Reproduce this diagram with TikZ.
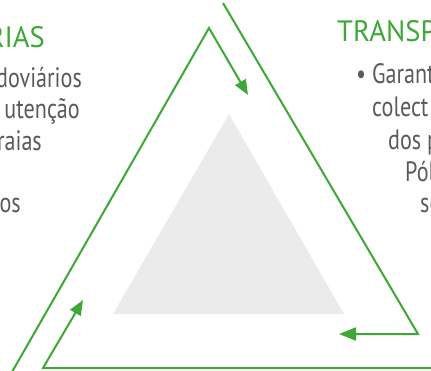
\documentclass[tikz,border=0pt]{standalone}
\usepackage{fontspec}
\setmainfont{PT Sans}[FakeStretch=0.79]
\newfontfamily\headfont{PT Sans}[FakeStretch=0.97]
\usetikzlibrary{arrows.meta}
\definecolor{grn}{HTML}{3DA836}
\definecolor{txt}{HTML}{5A5A5A}
\definecolor{tri}{HTML}{EBEBEB}
\tikzset{
  flow/.style={draw=grn, line width=2pt, line join=miter},
  tip/.style={-{Triangle[length=15pt,width=12pt]}},
  head/.style={text=grn, font=\headfont\fontsize{29.5}{32}\selectfont, inner sep=0pt},
  body/.style={text=txt, font=\fontsize{28}{32}\selectfont, inner sep=0pt},
}
\begin{document}
\begin{tikzpicture}[x=1pt,y=-1pt]
\useasboundingbox (0,0) rectangle (431,371);
\clip (0,0) rectangle (431,371);
% grey triangle
\fill[tri] (229,114) -- (113,314) -- (344,314) -- cycle;
% coordinates
\coordinate (a0) at (12,372);
\coordinate (a1) at (209,28);
\coordinate (a2) at (248,95);
\coordinate (b0) at (223,3);
\coordinate (b1) at (418,334);
\coordinate (b2) at (339,334);
\coordinate (c0) at (433,368);
\coordinate (c1) at (43,368);
\coordinate (c2) at (83,300);
% green arrows
\draw[flow,tip] (a0) -- (a1) -- (a2);
\draw[flow,-{Triangle[length=17pt,width=13pt]}] (b0) -- (b1) -- (b2);
\draw[flow,tip] (c0) -- (c1) -- (c2);
% left texts
\node[head, anchor=base east] (h1) at (45,48) {RIAS};
\node[body, anchor=base east] (l1) at (82,88) {doviários};
\node[body, anchor=base east] (l2) at (80,119) {utenção};
\node[body, anchor=base east] (l3) at (42,151) {raias};
\node[body, anchor=base east] (l5) at (21,213) {os};
% right texts
\node[head, anchor=base west] (h2) at (337,42) {TRANSP};
\node[body, anchor=base west] (r1) at (356,84) {• Garant};
\node[body, anchor=base west] (r2) at (372,117) {colect};
\node[body, anchor=base west] (r3) at (388,150) {dos p};
\node[body, anchor=base west] (r4) at (405,182) {Pól};
\node[body, anchor=base west] (r5) at (420,213) {se};
\end{tikzpicture}
\end{document}
